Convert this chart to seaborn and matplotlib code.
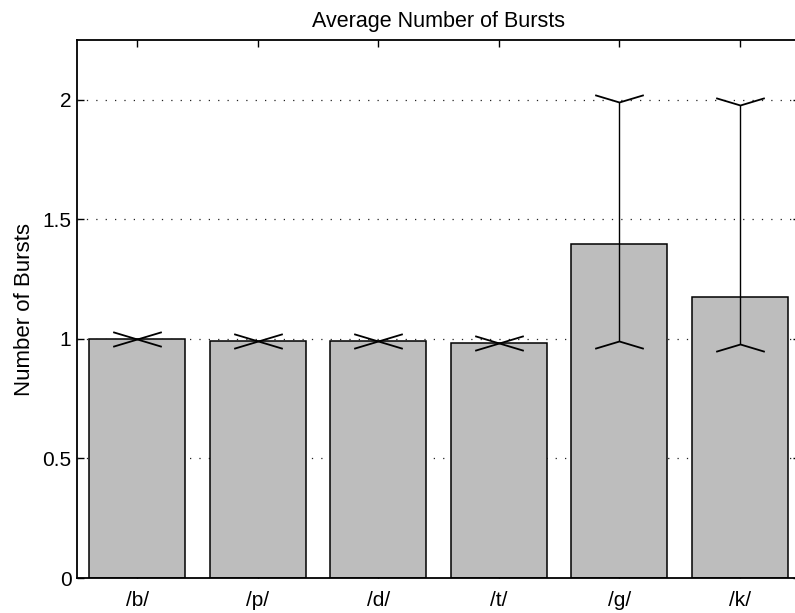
import numpy as np
import pandas as pd
import matplotlib
matplotlib.use('Agg')
import matplotlib.pyplot as plt
from matplotlib.path import Path
import seaborn as sns

sns.set_theme(style="white")
plt.rcParams['font.family'] = ['Liberation Sans', 'DejaVu Sans']
plt.rcParams['text.color'] = 'black'
plt.rcParams['axes.labelcolor'] = 'black'

# Values
phonemes = ['/b/', '/p/', '/d/', '/t/', '/g/', '/k/']
mean_bursts = [1.0, 0.993, 0.99, 0.982, 1.395, 1.177]
err_low = [1.0, 0.993, 0.99, 0.982, 0.99, 0.98]
err_high = [1.0, 0.993, 0.99, 0.982, 1.99, 1.98]
y_ticks = [0, 0.5, 1, 1.5, 2]
y_tick_labels = ['0', '0.5', '1', '1.5', '2']

df = pd.DataFrame({'phoneme': phonemes, 'bursts': mean_bursts})

fig = plt.figure(figsize=(7.95, 6.13), dpi=100, facecolor='white')
ax = fig.add_axes([77 / 795, 35 / 613, (800 - 77) / 795, (578 - 40) / 613])

sns.barplot(data=df, x='phoneme', y='bursts', color='#bdbdbd', saturation=1,
            edgecolor='black', linewidth=1.1, width=0.8, errorbar=None, ax=ax, zorder=2)

pos = np.arange(len(phonemes))
means = np.array(mean_bursts)
lo = np.array(err_low)
hi = np.array(err_high)
ax.errorbar(pos, means, yerr=[means - lo, hi - means], fmt='none',
            ecolor='black', elinewidth=1.0, capsize=0, zorder=3)

# bent caps, like the original printout
top_cap = Path([(-1, 0.3), (0, 0), (1, 0.3)], [Path.MOVETO, Path.LINETO, Path.LINETO])
bot_cap = Path([(-1, -0.3), (0, 0), (1, -0.3)], [Path.MOVETO, Path.LINETO, Path.LINETO])
ax.plot(pos, hi, linestyle='none', marker=top_cap, markersize=35,
        markerfacecolor='none', markeredgecolor='black', markeredgewidth=1.3, zorder=4)
ax.plot(pos, lo, linestyle='none', marker=bot_cap, markersize=35,
        markerfacecolor='none', markeredgecolor='black', markeredgewidth=1.3, zorder=4)

ax.set_xlim(-0.5, len(phonemes) - 0.5)
ax.set_ylim(0, 2.25)
ax.set_yticks(y_ticks)
ax.set_yticklabels(y_tick_labels)
for yv in y_ticks[1:]:
    ax.axhline(yv, color='#222222', linewidth=0.9, linestyle=(0, (1, 6.5)), zorder=1)

ax.tick_params(direction='in', length=5, width=1, colors='black',
               top=True, right=True, bottom=True, left=True, labelsize=15)
ax.tick_params(axis='y', pad=4)
ax.tick_params(axis='x', pad=9)
for spine in ax.spines.values():
    spine.set_color('black')
    spine.set_linewidth(1.3)

ax.set_xlabel('')
ax.set_ylabel('Number of Bursts', fontsize=16, labelpad=5)
ax.set_title('Average Number of Bursts', fontsize=15.5, pad=9)

fig.savefig('out.png', dpi=100, facecolor='white')
